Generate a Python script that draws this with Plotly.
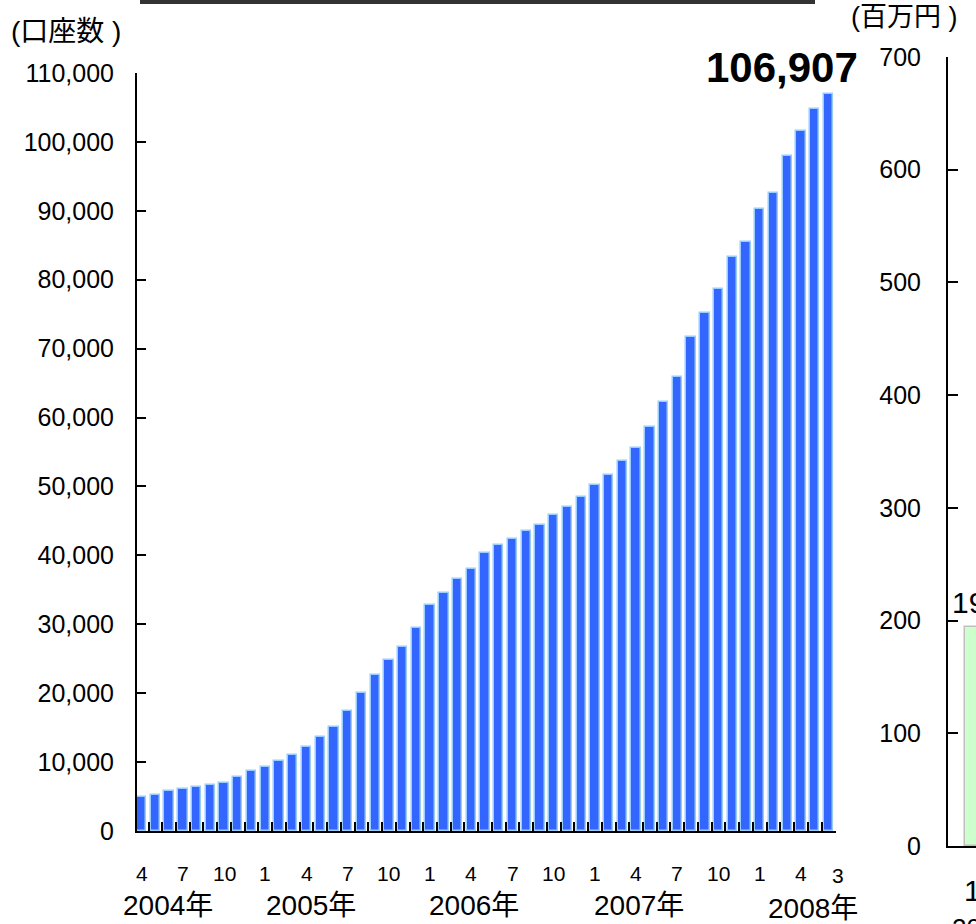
import plotly.graph_objects as go

# monthly accounts, Apr 2004 .. Jun 2008
accounts = [4900, 5200, 5750, 6050, 6350, 6650, 6950, 7800, 8650, 9250,
            10100, 11000, 12150, 13600, 15050, 17350, 20000, 22600, 24800, 26700,
            29500, 32750, 34500, 36500, 38000, 40300, 41450, 42400, 43500, 44350,
            45800, 47000, 48450, 50150, 51650, 53700, 55650, 58600, 62300, 65850,
            71650, 75100, 78600, 83250, 85500, 90250, 92550, 98000, 101600, 104750,
            106907]
month_pos = [0, 3, 6, 9, 12, 15, 18, 21, 24, 27, 30, 33, 36, 39, 42, 45, 48]
month_text = ['4', '7', '10', '1', '4', '7', '10', '1', '4', '7', '10', '1',
              '4', '7', '10', '1', '4']
last_month_text = '3'
year_pos = [1.9, 12.3, 24.2, 36.2, 48.9]
year_text = ['2004年', '2005年', '2006年', '2007年', '2008年']

# right-hand (cut off) panel
amount_vals = [194]

W, H = 976, 924
ML, MR, MT, MB = 137, 0, 57, 78
PW, PH = W - ML - MR, H - MT - MB


def px_x(px):
    return (px - ML) / PW


def px_y(py):
    return (H - MB - py) / PH


FONT = "Liberation Sans, Arial, Noto Sans CJK JP"


def note(x, y, text, size, xref='paper', xanchor='center', bold=False):
    return dict(x=x, y=y, xref=xref, yref='paper', text=f'<b>{text}</b>' if bold else text,
                xanchor=xanchor, yanchor='middle', showarrow=False,
                font=dict(size=size))


fig = go.Figure()
fig.add_trace(go.Bar(
    x=list(range(len(accounts))), y=accounts, width=0.68,
    marker=dict(color='#3366ff', line=dict(color='#99ccff', width=1.5)),
    xaxis='x', yaxis='y', showlegend=False,
))
fig.add_trace(go.Bar(
    x=[1.0], y=amount_vals, width=0.8,
    marker=dict(color='#ccffcc', line=dict(color='#c0c0c0', width=1.5)),
    xaxis='x3', yaxis='y2', showlegend=False,
))

annotations = []
for p, t in zip(month_pos, month_text):
    annotations.append(note(p, px_y(873), t, 21, xref='x'))
annotations.append(note(px_x(838), px_y(875), last_month_text, 21))
for i, (p, t) in enumerate(zip(year_pos, year_text)):
    yy = 908 if i == len(year_pos) - 1 else 905
    annotations.append(note(p, px_y(yy), t, 28, xref='x'))
annotations += [
    note(px_x(782), px_y(67), f'{accounts[-1]:,}', 42, bold=True),
    note(px_x(9), px_y(31), '(口座数 )', 28, xanchor='left'),
    note(px_x(849), px_y(17), '(百万円 )', 27, xanchor='left'),
    note(px_x(950), px_y(603), str(amount_vals[0]), 30, xanchor='left'),
    note(px_x(962), px_y(890), '1', 30, xanchor='left'),
    note(px_x(950), px_y(928), '2008年', 26, xanchor='left'),
]

fig.update_layout(
    width=W, height=H,
    margin=dict(l=ML, r=MR, t=MT, b=MB, pad=0),
    paper_bgcolor='white', plot_bgcolor='white',
    font=dict(family=FONT, color='black'),
    bargap=0,
    xaxis=dict(domain=[0, px_x(836)], range=[-0.34, 50.55], anchor='y',
               showline=True, linecolor='black', linewidth=2,
               tickvals=[i + 0.5 for i in range(len(accounts))],
               ticks='inside', ticklen=9, tickwidth=2, tickcolor='black',
               showticklabels=False, showgrid=False, zeroline=False),
    yaxis=dict(domain=[px_y(831), px_y(73)], range=[0, 110000], dtick=10000,
               tickformat=',', anchor='x',
               showline=True, linecolor='black', linewidth=2,
               ticks='inside', ticklen=9, tickwidth=2, tickcolor='black',
               ticklabelstandoff=16, tickfont=dict(size=25),
               showgrid=False, zeroline=False),
    xaxis3=dict(domain=[px_x(948), 1], range=[0, 1], anchor='y2',
                showline=True, linecolor='black', linewidth=2,
                showticklabels=False, ticks='', showgrid=False, zeroline=False),
    yaxis2=dict(domain=[0, 1], range=[0, 700], dtick=100, anchor='x3',
                showline=True, linecolor='black', linewidth=2,
                ticks='inside', ticklen=10, tickwidth=2, tickcolor='black',
                ticklabelstandoff=20, tickfont=dict(size=25),
                showgrid=False, zeroline=False),
    annotations=annotations,
    shapes=[dict(type='line', xref='paper', yref='paper',
                 x0=px_x(140), x1=px_x(815), y0=px_y(2), y1=px_y(2),
                 line=dict(color='#333', width=4))],
)

fig.write_html("out.html", config={'displayModeBar': False},
               post_script="document.body.style.margin='0';")
